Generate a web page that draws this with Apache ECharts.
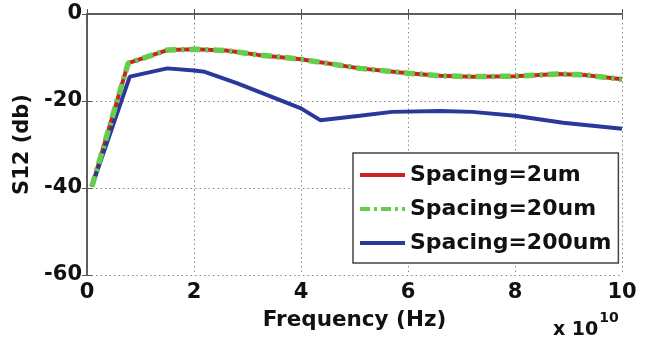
<!DOCTYPE html>
<html><head><meta charset="utf-8">
<script src="https://cdn.jsdelivr.net/npm/echarts@6/dist/echarts.min.js"></script>
<style>html,body{margin:0;padding:0;background:#fff}#c{width:646px;height:346px}</style>
</head><body><div id="c"></div>
<script>
const freqA = [0.09, 0.77, 1.5, 2.0, 2.6, 3.2, 4.0, 5.1, 6.0, 6.6, 7.2, 8.0, 8.8, 9.3, 10];
const s2um = [-39.7, -11.3, -8.3, -8.1, -8.4, -9.4, -10.4, -12.5, -13.6, -14.2, -14.4, -14.3, -13.8, -14.0, -15.0];
const s20um = [-39.7, -11.3, -8.3, -8.1, -8.4, -9.4, -10.4, -12.5, -13.6, -14.2, -14.4, -14.3, -13.8, -14.0, -15.0];
const freqB = [0.09, 0.8, 1.5, 2.0, 2.2, 2.8, 3.3, 4.0, 4.36, 5.1, 5.7, 6.6, 7.2, 8.0, 8.9, 10];
const s200um = [-39.7, -14.4, -12.5, -13.0, -13.3, -15.9, -18.3, -21.7, -24.4, -23.4, -22.5, -22.3, -22.5, -23.4, -25.0, -26.4];
const names = ['Spacing=2um', 'Spacing=20um', 'Spacing=200um'];

const pair = (xs, ys) => xs.map((x, i) => [x, ys[i]]);
const font = 'DejaVu Sans, sans-serif';
const axisCol = '#555';
const solidIcon = 'path://M0,0 L45,0 L45,4 L0,4 Z';
const dashDotIcon = 'path://M0,0 L10,0 L10,4 L0,4 Z M14,0 L17,0 L17,4 L14,4 Z M21,0 L31,0 L31,4 L21,4 Z M35,0 L38,0 L38,4 L35,4 Z M42,0 L45,0 L45,4 L42,4 Z';
const chart = echarts.init(document.getElementById('c'), null, {renderer: 'canvas'});
const hiddenX = {type: 'value', min: 0, max: 10, interval: 2, position: 'top',
  axisLine: {show: true, lineStyle: {color: axisCol, width: 1.5}},
  axisTick: {show: true, inside: true, length: 5, lineStyle: {color: axisCol}},
  axisLabel: {show: false}, splitLine: {show: false}};
const hiddenY = {type: 'value', min: -60, max: 0, interval: 20, position: 'right',
  axisLine: {show: true, lineStyle: {color: axisCol, width: 1.5}},
  axisTick: {show: true, inside: true, length: 5, lineStyle: {color: axisCol}},
  axisLabel: {show: false}, splitLine: {show: false}};
chart.setOption({
  animation: false,
  backgroundColor: '#fff',
  grid: {left: 87, right: 24, top: 14, bottom: 71},
  xAxis: [{
    type: 'value', min: 0, max: 10, interval: 2, position: 'bottom',
    name: 'Frequency (Hz)', nameLocation: 'middle', nameGap: 34,
    nameTextStyle: {fontFamily: font, fontWeight: 'bold', fontSize: 21.5, color: '#111'},
    axisLine: {show: true, lineStyle: {color: axisCol, width: 1.5}},
    axisTick: {show: true, inside: true, length: 5, lineStyle: {color: axisCol}},
    axisLabel: {fontFamily: font, fontWeight: 'bold', fontSize: 21, color: '#111', margin: 7},
    splitLine: {show: true, lineStyle: {color: '#888', type: [1.5, 3], width: 1}}
  }, hiddenX],
  yAxis: [{
    type: 'value', min: -60, max: 0, interval: 20, position: 'left',
    name: 'S12 (db)', nameLocation: 'middle', nameGap: 53, nameRotate: 90,
    nameTextStyle: {fontFamily: font, fontWeight: 'bold', fontSize: 21, color: '#111'},
    axisLine: {show: true, lineStyle: {color: axisCol, width: 1.5}},
    axisTick: {show: true, inside: true, length: 5, lineStyle: {color: axisCol}},
    axisLabel: {fontFamily: font, fontWeight: 'bold', fontSize: 21, color: '#111', margin: 5},
    splitLine: {show: true, lineStyle: {color: '#888', type: [1.5, 3], width: 1}}
  }, hiddenY],
  legend: {
    left: 353, top: 153, orient: 'vertical',
    data: [
      {name: names[0], icon: solidIcon},
      {name: names[1], icon: dashDotIcon},
      {name: names[2], icon: solidIcon}
    ],
    backgroundColor: '#fff', borderColor: '#444', borderWidth: 1.5,
    padding: [10, 7, 8, 7], itemGap: 10, itemWidth: 45, itemHeight: 4,
    itemStyle: {borderWidth: 0},
    textStyle: {fontFamily: font, fontWeight: 'bold', fontSize: 22, lineHeight: 24, color: '#111', padding: [0, 0, 0, 0]}
  },
  series: [
    {name: names[0], type: 'line', data: pair(freqA, s2um), symbol: 'none', z: 3,
     itemStyle: {color: '#cc2222'}, lineStyle: {color: '#cc2222', width: 4}},
    {name: names[1], type: 'line', data: pair(freqA, s20um), symbol: 'none', z: 4,
     itemStyle: {color: '#66cc4c'}, lineStyle: {color: '#66cc4c', width: 5.5, type: [11, 5, 3, 5]}},
    {name: names[2], type: 'line', data: pair(freqB, s200um), symbol: 'none', z: 3,
     itemStyle: {color: '#2a389c'}, lineStyle: {color: '#2a389c', width: 4}}
  ],
  graphic: [{
    type: 'text', left: 553, top: 311,
    style: {
      text: '{b|x 10}{s|10}',
      rich: {
        b: {fontFamily: font, fontWeight: 'bold', fontSize: 19, fill: '#111', padding: [10, 0, 0, 0]},
        s: {fontFamily: font, fontWeight: 'bold', fontSize: 14, fill: '#111', verticalAlign: 'top', padding: [0, 0, 12, 1]}
      }
    }
  }]
});
</script></body></html>
